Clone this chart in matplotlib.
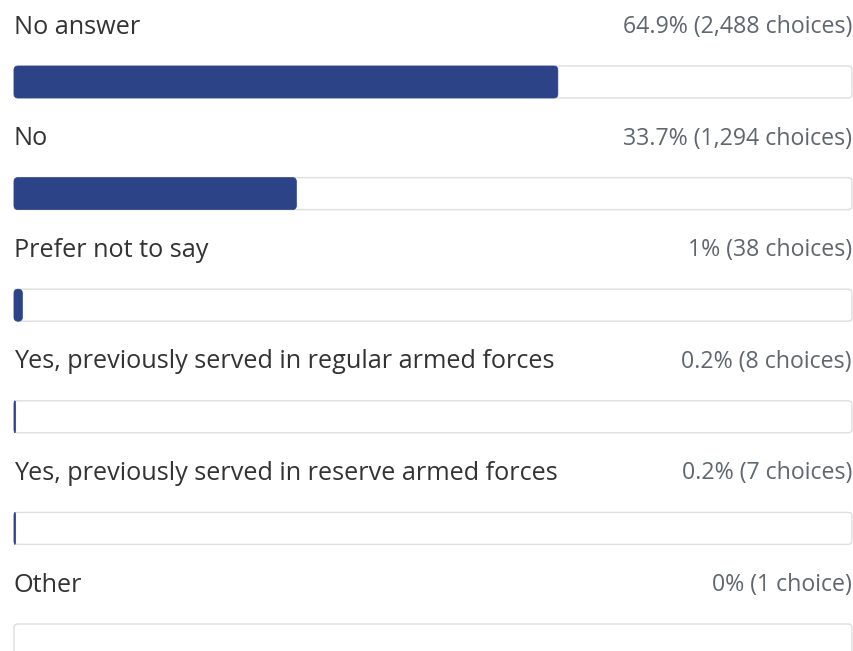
import matplotlib
matplotlib.use("Agg")
import matplotlib.pyplot as plt
from matplotlib.patches import FancyBboxPatch

categories = ["No answer", "No", "Prefer not to say",
              "Yes, previously served in regular armed forces",
              "Yes, previously served in reserve armed forces", "Other"]
percent = [64.9, 33.7, 1.0, 0.2, 0.2, 0.0]
pct_labels = ["64.9%", "33.7%", "1%", "0.2%", "0.2%", "0%"]
counts = [2488, 1294, 38, 8, 7, 1]

W, H = 854, 651
fig = plt.figure(figsize=(W / 100, H / 100), dpi=100)
x0, x1 = 14, 852
ax = fig.add_axes([x0 / W, 0, (x1 - x0) / W, 1])
pitch = 111.6
top_center = 82
ax.set_xlim(0, 100)
ax.set_ylim((H - top_center) / pitch, -top_center / pitch)
ax.axis("off")

bar_h = 32 / pitch
px_x = (x1 - x0) / 100.0
rad_x = 4 / px_x
rad_y = 4 / pitch
font = "Open Sans"
fs = 18.2
fs_r = 16.7
for i, (cat, p, pl, c) in enumerate(zip(categories, percent, pct_labels, counts)):
    track = FancyBboxPatch((0, i - bar_h / 2), 100, bar_h,
                           boxstyle=f"round,pad=0,rounding_size={rad_x}",
                           mutation_aspect=rad_y / rad_x,
                           facecolor="white", edgecolor="#dedede", linewidth=1.0,
                           clip_on=False, zorder=1)
    ax.add_patch(track)
    ly = i - (top_center - 27) / pitch
    ax.text(0, ly, cat, ha="left", va="center", fontsize=fs, family=font,
            color="#333333")
    word = "choice" if c == 1 else "choices"
    ax.text(100, ly, f"{pl} ({c:,} {word})", ha="right", va="center",
            fontsize=fs_r, family=font, color="#5f6670")

bars = ax.barh(range(len(categories)), percent, height=bar_h, color="#2d4387",
               linewidth=0, zorder=2)
# round the bars' corners
for b in bars:
    b.set_visible(False)
    x, y = b.get_x(), b.get_y()
    w, h = b.get_width(), b.get_height()
    if w <= 0:
        continue
    r = min(rad_x, w / 2)
    fb = FancyBboxPatch((x, y), w, h,
                        boxstyle=f"round,pad=0,rounding_size={r}",
                        mutation_aspect=rad_y / r,
                        facecolor="#2d4387", edgecolor="#2d4387", linewidth=0.5,
                        zorder=2, clip_on=False)
    ax.add_patch(fb)

fig.savefig("out.png", dpi=100, facecolor="white")
